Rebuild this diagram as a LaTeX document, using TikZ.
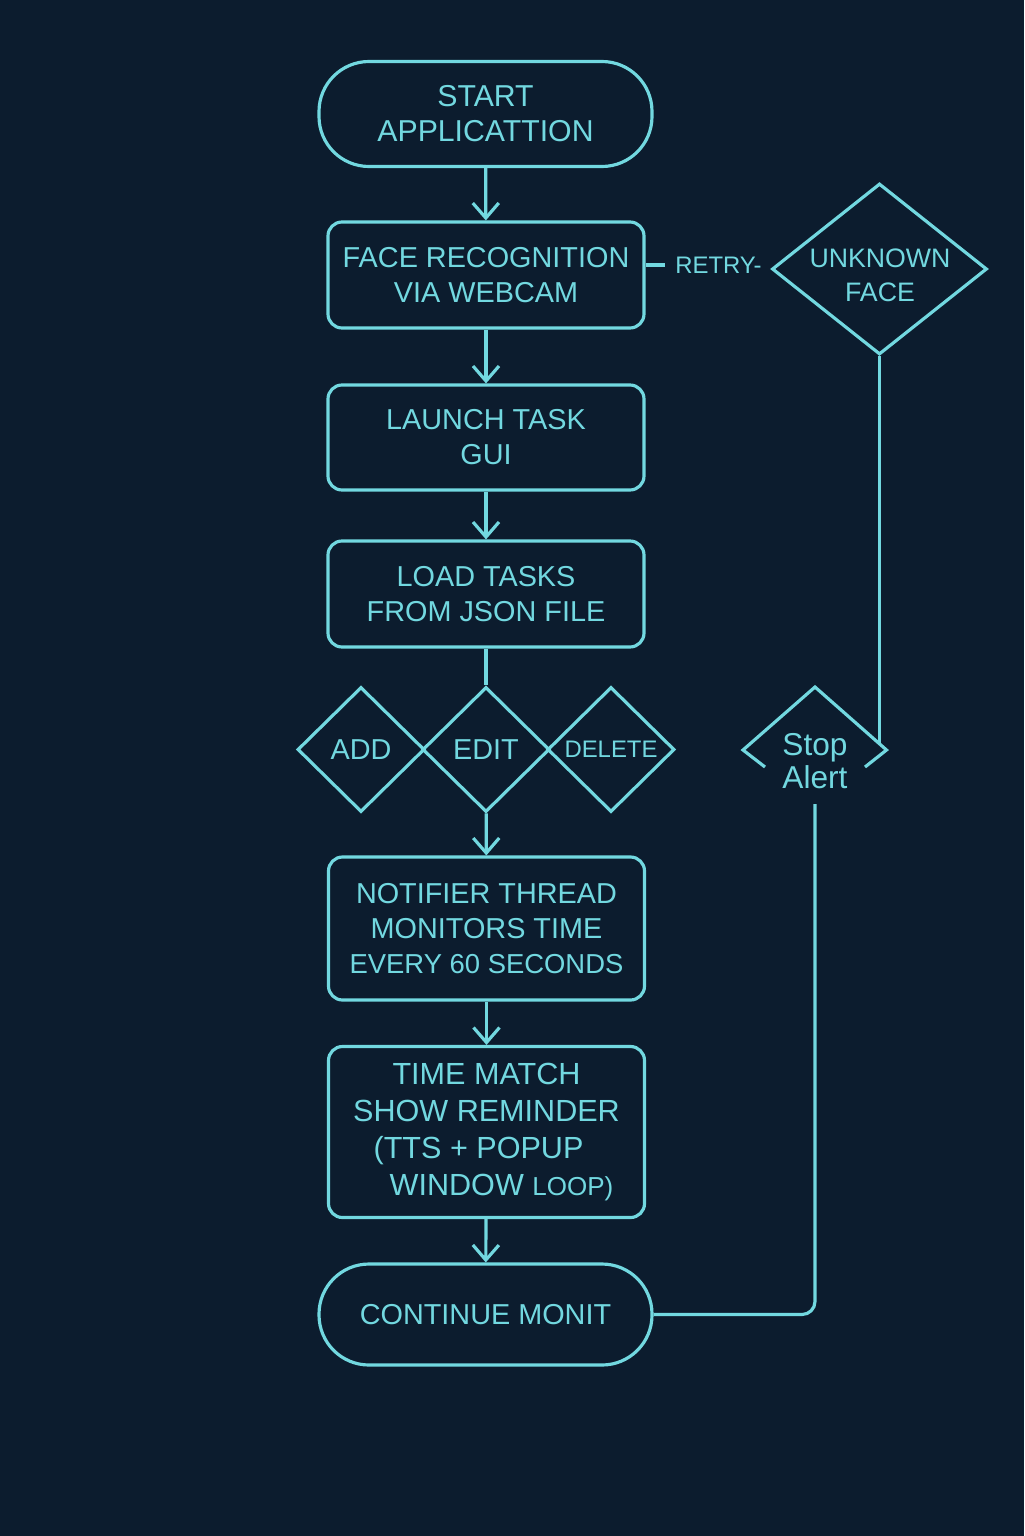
\documentclass[tikz,border=0pt]{standalone}
\usepackage{fontspec}
\setmainfont{Liberation Sans}
\usetikzlibrary{shapes.geometric,arrows.meta}
\definecolor{bgnavy}{HTML}{0C1C2E}
\definecolor{glowcyan}{HTML}{72D8E0}

\begin{document}
\begin{tikzpicture}[>={Straight Barb[length=1.5mm,width=2.6mm]},
    every node/.style={text=glowcyan, font=\fontsize{8.2}{10}\selectfont},
    block/.style={draw=glowcyan, line width=0.9pt, rounded corners=1.4mm, minimum width=3.16cm, minimum height=1.06cm, align=center, inner sep=0pt},
    term/.style={draw=glowcyan, line width=0.9pt, rounded corners=5mm, minimum width=3.33cm, minimum height=1.05cm, align=center},
    choice/.style={draw=glowcyan, line width=0.9pt, shape=diamond, minimum width=1.27cm, minimum height=1.25cm, inner sep=0pt},
    link/.style={draw=glowcyan, line width=0.9pt}]

    % background
    \fill[bgnavy] (0,0) rectangle (10.24,-15.36);
    \useasboundingbox (0,0) rectangle (10.24,-15.36);

    % main column
    \node[term, font=\fontsize{8.6}{10}\selectfont] (start) at (4.855,-1.14) {START\\APPLICATTION};
    \node[block] (face) at (4.86,-2.75) {FACE RECOGNITION\\VIA WEBCAM};
    \node[block, minimum height=1.05cm] (launch) at (4.86,-4.375) {LAUNCH TASK\\GUI};
    \node[block] (load) at (4.86,-5.94) {LOAD TASKS\\FROM JSON FILE};

    % task actions
    \node[choice] (add) at (3.61,-7.495) {ADD};
    \node[choice] (edit) at (4.86,-7.495) {EDIT};
    \node[choice, font=\fontsize{6.8}{8}\selectfont] (delete) at (6.11,-7.495) {DELETE};

    \node[block, minimum height=1.43cm] (notif) at (4.865,-9.285)
        {NOTIFIER THREAD\\MONITORS TIME\\{\fontsize{7.8}{10}\selectfont EVERY 60 SECONDS}};
    \node[block, minimum height=1.71cm, font=\fontsize{8.7}{10.6}\selectfont] (remind) at (4.865,-11.32)
        {TIME MATCH\\SHOW REMINDER\\\hspace*{-0.16cm}(TTS + POPUP\\\hspace*{0.3cm}WINDOW {\fontsize{7.4}{10}\selectfont LOOP)}};
    \node[term, minimum height=1.01cm] (monit) at (4.855,-13.145) {CONTINUE MONIT};

    % unknown face branch
    \node[shape=diamond, draw=glowcyan, line width=0.9pt, aspect=1.26, minimum width=2.15cm, minimum height=1.71cm, inner sep=0pt] (unknown) at (8.795,-2.69) {};
    \node[align=center, font=\fontsize{7.6}{9.6}\selectfont] (unknowntxt) at (8.80,-2.755) {UNKNOWN\\FACE};
    \node[font=\fontsize{6.8}{8}\selectfont, inner sep=1mm] (retry) at (7.185,-2.65) {RETRY-};

    % stop alert (open diamond)
    \node[align=center, inner sep=1.5mm, font=\fontsize{9}{9.2}\selectfont] (stop) at (8.15,-7.61) {Stop\\Alert};
    \draw[link, line join=miter] (7.65,-7.67) -- (7.43,-7.50) -- (8.15,-6.87) -- (8.865,-7.50) -- (8.65,-7.67);
    \coordinate (stopedge) at (8.795,-7.44);

    % arrows
    \draw[link, ->] (start) -- (face);
    \draw[link, ->] (face) -- (launch);
    \draw[link, ->] (launch) -- (load);
    \draw[link] (load) -- (edit);
    \draw[link, ->] (edit) -- (notif);
    \draw[link, ->] (notif) -- (remind);
    \draw[link, ->] (remind) -- (monit);

    % retry and loop back
    \draw[link] (face.east |- retry.west) -- (retry.west);
    \draw[link] (unknown.south) -- (stopedge);
    \draw[link, rounded corners=1.3mm] (monit.east) -| (stop.south);

\end{tikzpicture}
\end{document}
